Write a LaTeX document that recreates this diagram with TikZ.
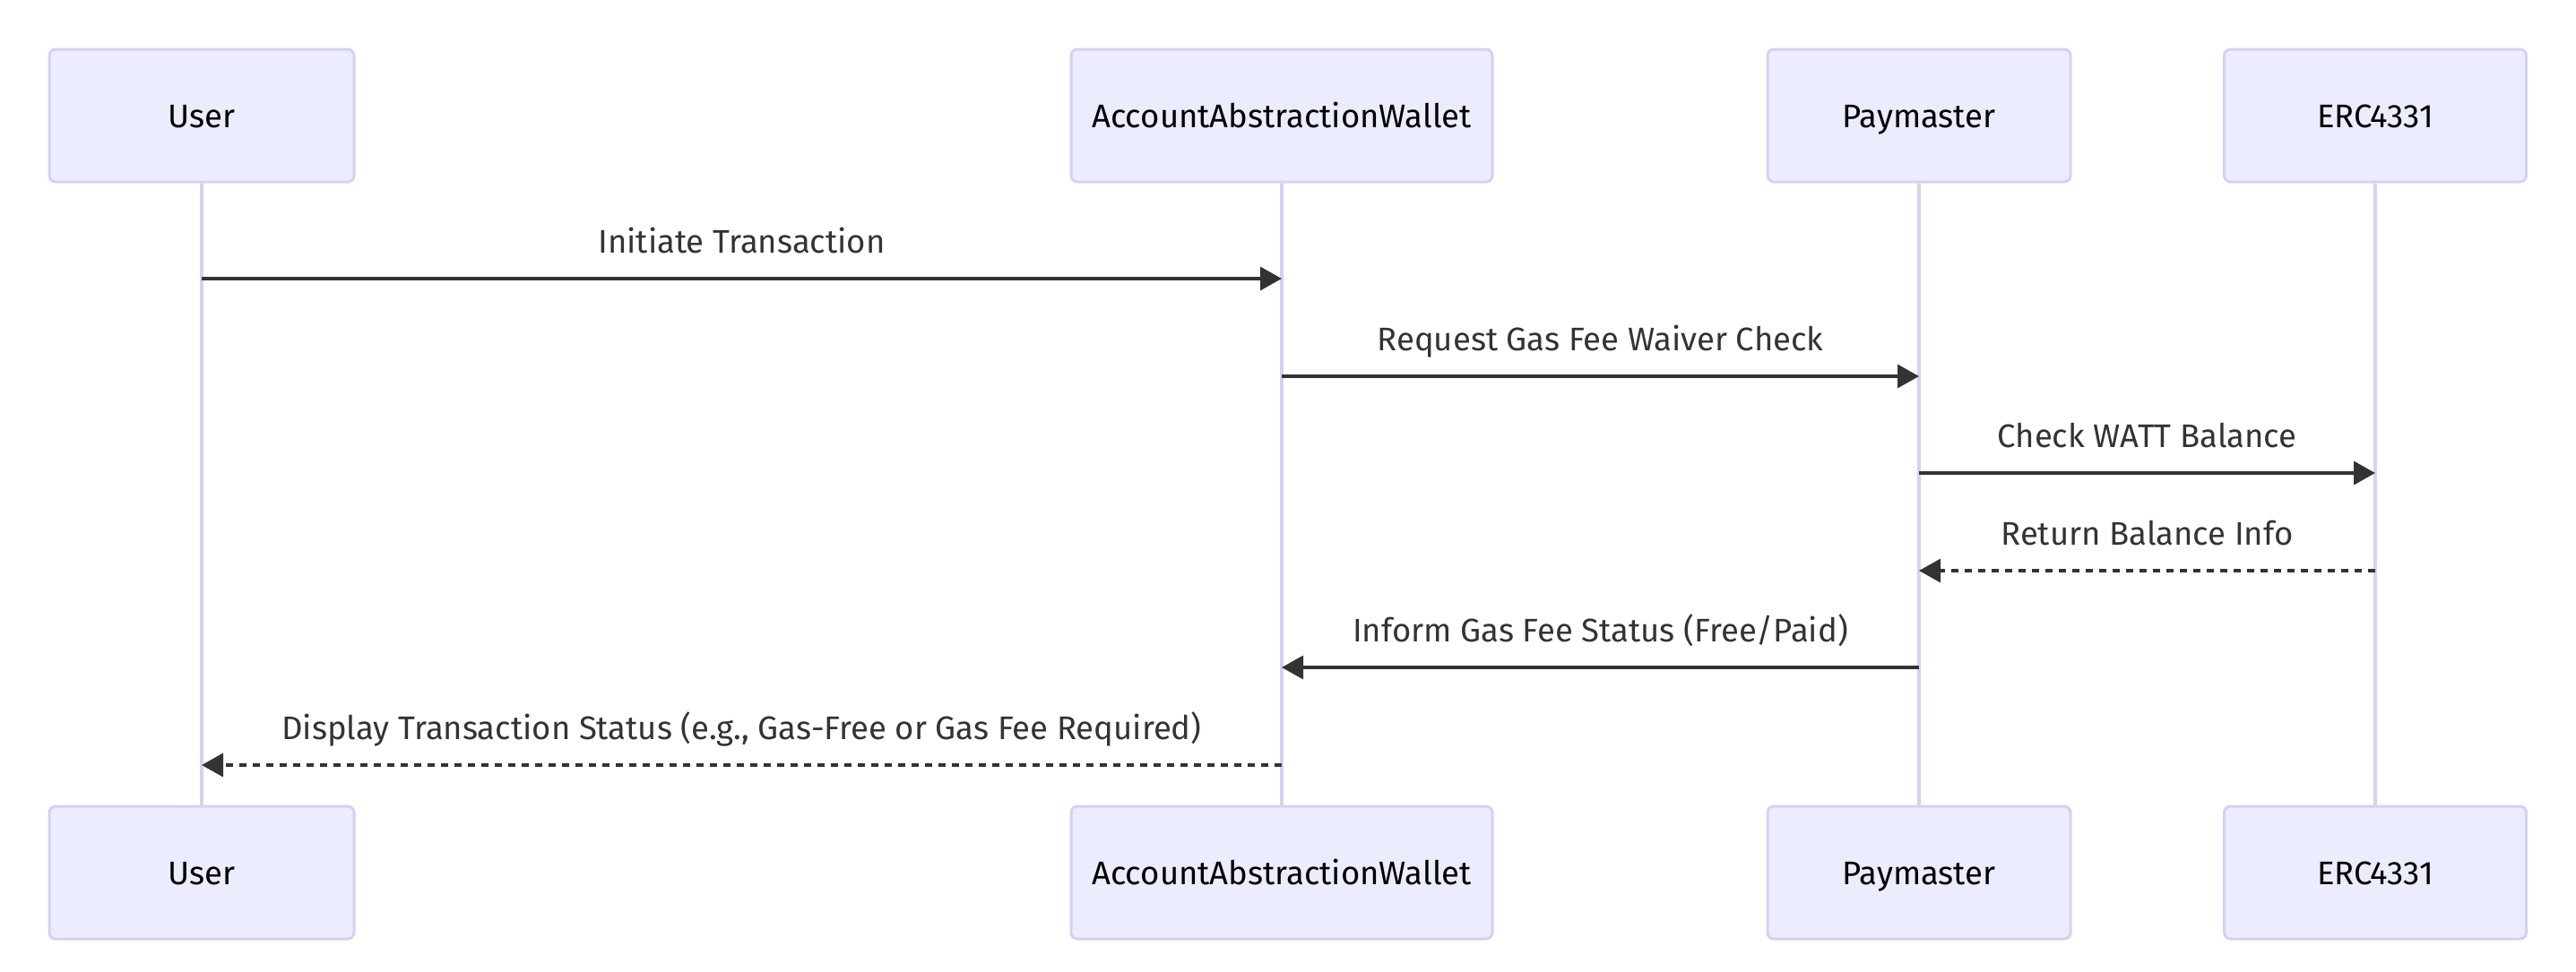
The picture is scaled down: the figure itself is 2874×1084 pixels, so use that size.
\documentclass[tikz,border=0pt]{standalone}
\usepackage{fontspec}
\setmainfont{Fira Sans}
\usetikzlibrary{arrows.meta}
\definecolor{actfill}{HTML}{ECECFF}
\definecolor{actline}{HTML}{D8CFF3}
\definecolor{msgcol}{HTML}{333333}
\begin{document}
\begin{tikzpicture}[x=1pt,y=-1pt,
  actor/.style={draw=actline,fill=actfill,line width=3pt,rounded corners=7pt,
    minimum height=148pt,text height=31pt,text depth=5pt,
    font=\fontsize{36.5}{40}\selectfont,text=black},
  lifeline/.style={actline,line width=4.5pt},
  msg/.style={msgcol,line width=3.5pt,-{Triangle[length=24pt,width=26pt]}},
  reply/.style={msg,dash pattern=on 8pt off 7pt},
  lbl/.style={midway,anchor=base,yshift=29pt,text=msgcol,font=\fontsize{36.5}{40}\selectfont}]
\useasboundingbox (0,0) rectangle (2874,1084);
\node[actor,minimum width=340pt] (usrT) at (225,129) {User};
\node[actor,minimum width=470pt] (aawT) at (1430,129) {AccountAbstractionWallet};
\node[actor,minimum width=338pt] (payT) at (2141,129) {Paymaster};
\node[actor,minimum width=337pt] (ercT) at (2650,129) {ERC4331};
\node[actor,minimum width=340pt] (usrB) at (225,974) {User};
\node[actor,minimum width=470pt] (aawB) at (1430,974) {AccountAbstractionWallet};
\node[actor,minimum width=338pt] (payB) at (2141,974) {Paymaster};
\node[actor,minimum width=337pt] (ercB) at (2650,974) {ERC4331};
\foreach \a in {usr,aaw,pay,erc}
  \draw[lifeline] (\a T.south) -- (\a B.north);
\coordinate (r1) at (0,311);
\coordinate (r2) at (0,420);
\coordinate (r3) at (0,528);
\coordinate (r4) at (0,637);
\coordinate (r5) at (0,745);
\coordinate (r6) at (0,854);
\draw[msg] (usrT |- r1) -- (aawT |- r1) node[lbl] {Initiate Transaction};
\draw[msg] (aawT |- r2) -- (payT |- r2) node[lbl] {Request Gas Fee Waiver Check};
\draw[msg] (payT |- r3) -- (ercT |- r3) node[lbl] {Check WATT Balance};
\draw[reply] (ercT |- r4) -- (payT |- r4) node[lbl] {Return Balance Info};
\draw[msg] (payT |- r5) -- (aawT |- r5) node[lbl] {Inform Gas Fee Status (Free/Paid)};
\draw[reply] (aawT |- r6) -- (usrT |- r6) node[lbl] {Display Transaction Status (e.g., Gas-Free or Gas Fee Required)};
\end{tikzpicture}
\end{document}
